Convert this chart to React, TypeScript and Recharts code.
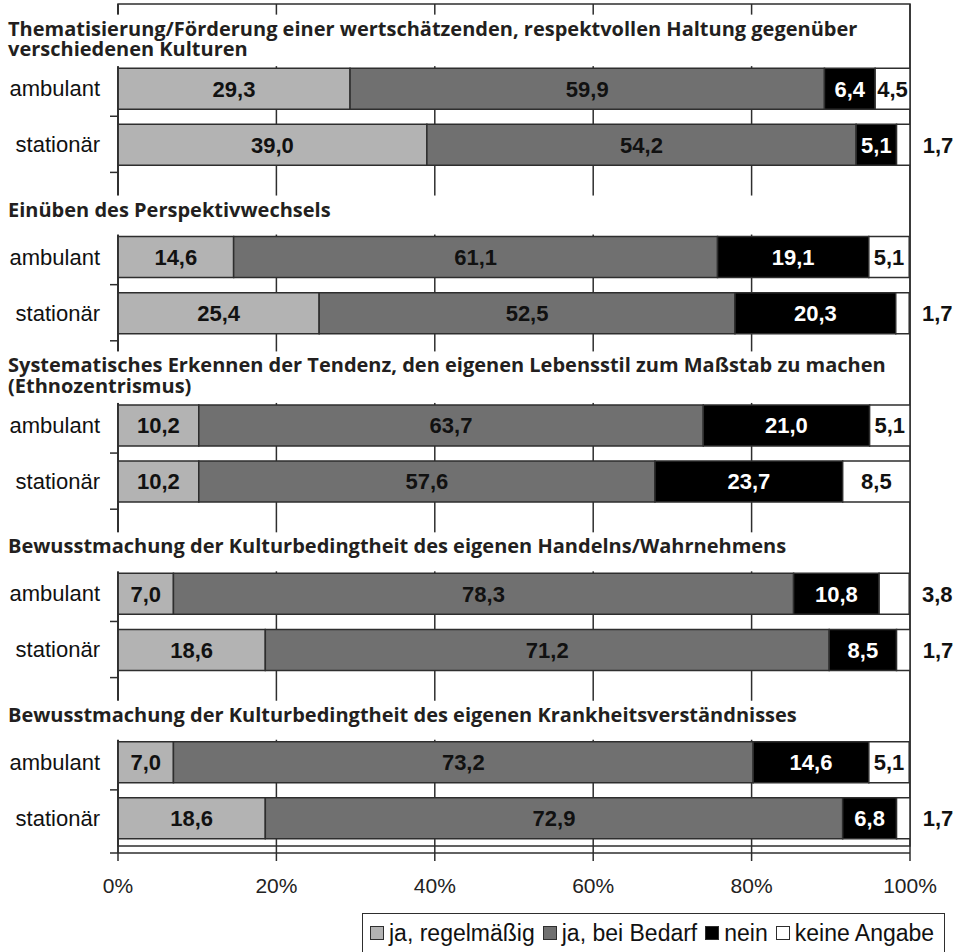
import {
  Bar,
  BarChart,
  CartesianGrid,
  LabelList,
  Legend,
  ReferenceArea,
  XAxis,
  YAxis,
} from "recharts";

const GROUP_TITLES = [
  [
    "Thematisierung/Förderung einer wertschätzenden, respektvollen Haltung gegenüber",
    "verschiedenen Kulturen",
  ],
  ["Einüben des Perspektivwechsels"],
  [
    "Systematisches Erkennen der Tendenz, den eigenen Lebensstil zum Maßstab zu machen",
    "(Ethnozentrismus)",
  ],
  ["Bewusstmachung der Kulturbedingtheit des eigenen Handelns/Wahrnehmens"],
  ["Bewusstmachung der Kulturbedingtheit des eigenen Krankheitsverständnisses"],
];
const SETTINGS = ["ambulant", "stationär"];

// two values per group: ambulant, stationär
const REGELMAESSIG = [29.3, 39.0, 14.6, 25.4, 10.2, 10.2, 7.0, 18.6, 7.0, 18.6];
const BEI_BEDARF = [59.9, 54.2, 61.1, 52.5, 63.7, 57.6, 78.3, 71.2, 73.2, 72.9];
const NEIN = [6.4, 5.1, 19.1, 20.3, 21.0, 23.7, 10.8, 8.5, 14.6, 6.8];
const KEINE_ANGABE = [4.5, 1.7, 5.1, 1.7, 5.1, 8.5, 3.8, 1.7, 5.1, 1.7];

const X_TICKS = [0, 20, 40, 60, 80, 100];

const SERIES = [
  { key: "regel", name: "ja, regelmäßig", fill: "#b3b3b3", text: "#111" },
  { key: "bedarf", name: "ja, bei Bedarf", fill: "#707070", text: "#111" },
  { key: "nein", name: "nein", fill: "#000000", text: "#ffffff" },
  { key: "keine", name: "keine Angabe", fill: "#ffffff", text: "#111" },
];

const W = 959;
const H = 952;
const PLOT_LEFT = 118;
const PLOT_RIGHT = 910;
const PLOT_TOP = 4;
const AXIS_GAP = 7; // x axis sits a bit below the frame
const X_AXIS_H = 99;
const ROWS_BOTTOM = H - X_AXIS_H - AXIS_GAP;
const TITLE_LINE_H = 20.5;
const LINE = "#2e2e2e";
const SANS = "'Liberation Sans', Arial, sans-serif";

type Row = {
  key: string;
  title?: string[];
  label?: string;
  regel?: number;
  bedarf?: number;
  nein?: number;
  keine?: number;
};

const rows: Row[] = GROUP_TITLES.flatMap((title, g) => [
  { key: `g${g}-title`, title },
  ...SETTINGS.map((s, i) => {
    const k = g * 2 + i;
    return {
      key: `g${g}-${s}`,
      label: s,
      regel: REGELMAESSIG[k],
      bedarf: BEI_BEDARF[k],
      nein: NEIN[k],
      keine: KEINE_ANGABE[k],
    };
  }),
]);

const ROW_H = (ROWS_BOTTOM - PLOT_TOP) / rows.length;

const fmt = (v: number) => v.toFixed(1).replace(".", ",");

// y axis tick: either a group title (white box over grid) or a category label
const CategoryTick = (props: any) => {
  const { y, payload, index } = props;
  const row = rows.find((r) => r.key === payload.value);
  if (!row) return null;
  const bottom = y + ROW_H / 2;
  if (row.title) {
    const lines = row.title;
    const lastBase = bottom - (lines.length > 1 ? 4 : 12);
    const firstBase = lastBase - (lines.length - 1) * TITLE_LINE_H;
    const boxTop = firstBase - 21;
    return (
      <g>
        <rect
          x={0}
          y={boxTop}
          width={PLOT_RIGHT - 3}
          height={bottom + 6 - boxTop}
          fill="#ffffff"
        />
        <text
          fontFamily="'Open Sans', 'Noto Sans', sans-serif"
          fontWeight={700}
          fontSize={20}
          fill="#231f20"
        >
          {lines.map((l, i) => (
            <tspan key={i} x={8} y={firstBase + i * TITLE_LINE_H}>
              {l}
            </tspan>
          ))}
        </text>
      </g>
    );
  }
  const tickY = index === rows.length - 1 ? bottom + AXIS_GAP : bottom;
  return (
    <g>
      <line
        x1={PLOT_LEFT - 8}
        x2={PLOT_LEFT}
        y1={tickY}
        y2={tickY}
        stroke={LINE}
        strokeWidth={1.5}
      />
      <text
        x={PLOT_LEFT - 18}
        y={y}
        dy="0.36em"
        textAnchor="end"
        fontFamily={SANS}
        fontSize={22}
        fill="#111"
      >
        {row.label}
      </text>
    </g>
  );
};

const valueLabel =
  (color: string, outsideBelow = 0) =>
  (props: any) => {
    const { x, y, width, height, value } = props;
    if (value == null || !width) return null;
    const outside = value < outsideBelow;
    return (
      <text
        x={outside ? x + width + 28 : x + width / 2}
        y={y + height / 2}
        dy="0.36em"
        textAnchor="middle"
        fontFamily={SANS}
        fontWeight={700}
        fontSize={22}
        fill={outside ? "#111" : color}
      >
        {fmt(Number(value))}
      </text>
    );
  };

const LegendBox = (props: any) => {
  const payload = [...(props.payload || [])].sort(
    (a: any, b: any) =>
      SERIES.findIndex((s) => s.name === a.value) -
      SERIES.findIndex((s) => s.name === b.value)
  );
  return (
    <div
      style={{
        display: "flex",
        alignItems: "center",
        border: `1.5px solid ${LINE}`,
        borderBottom: "none",
        height: 39,
        paddingLeft: 7,
        paddingRight: 2,
        boxSizing: "border-box",
        fontFamily: SANS,
        fontSize: 23,
        color: "#111",
        background: "#fff",
        whiteSpace: "nowrap",
      }}
    >
      {payload.map((entry: any) => (
        <span
          key={entry.value}
          style={{ display: "flex", alignItems: "center", marginRight: 8 }}
        >
          <span
            style={{
              display: "inline-block",
              width: 12,
              height: 12,
              background: entry.color,
              border: `1.5px solid ${LINE}`,
              marginRight: 5,
            }}
          />
          {entry.value}
        </span>
      ))}
    </div>
  );
};

export default function App() {
  return (
    <div style={{ position: "absolute", left: 0, top: 0, width: W, height: H }}>
      <BarChart
        width={W}
        height={H}
        data={rows}
        layout="vertical"
        margin={{ top: PLOT_TOP, right: W - PLOT_RIGHT, bottom: 0, left: 0 }}
        barSize={41}
      >
        <CartesianGrid horizontal={false} stroke={LINE} strokeWidth={1.5} />
        <ReferenceArea
          y1={rows[0].key}
          y2={rows[rows.length - 1].key}
          fill="none"
          stroke={LINE}
          strokeWidth={1.5}
          fillOpacity={0}
        />
        <XAxis
          type="number"
          domain={[0, 100]}
          ticks={X_TICKS}
          allowDataOverflow
          tickFormatter={(v) => `${v}%`}
          height={X_AXIS_H}
          tickSize={8}
          tickMargin={17}
          stroke={LINE}
          strokeWidth={1.5}
          tick={{ fontSize: 21, fill: "#222", fontFamily: SANS }}
        />
        <YAxis
          type="category"
          dataKey="key"
          width={PLOT_LEFT}
          interval={0}
          tickLine={false}
          tickSize={8}
          tickMargin={10}
          padding={{ top: 0, bottom: AXIS_GAP }}
          stroke={LINE}
          strokeWidth={1.5}
          tick={<CategoryTick />}
        />
        <Legend
          layout="vertical"
          align="center"
          verticalAlign="middle"
          wrapperStyle={{ left: 362, top: 913, width: "auto" }}
          content={<LegendBox />}
        />
        {SERIES.map((s) => (
          <Bar
            key={s.key}
            dataKey={s.key}
            name={s.name}
            stackId="s"
            fill={s.fill}
            stroke={LINE}
            strokeWidth={1.5}
            isAnimationActive={false}
          >
            <LabelList
              dataKey={s.key}
              content={valueLabel(s.text, s.key === "keine" ? 4 : 0)}
            />
          </Bar>
        ))}
      </BarChart>
    </div>
  );
}
